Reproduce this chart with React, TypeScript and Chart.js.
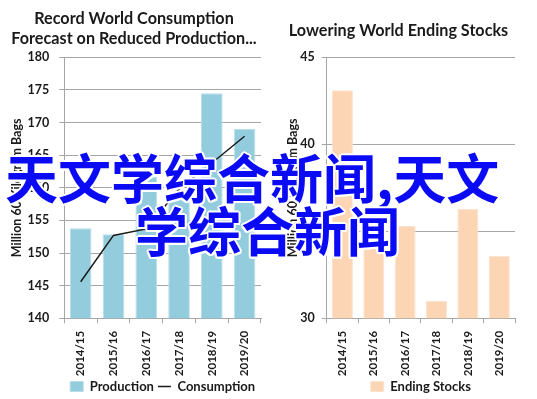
import React, { useEffect, useRef } from "react";
import { Chart, registerables } from "chart.js";

Chart.register(...registerables);

// ---- data ----
const categories = ["2014/15", "2015/16", "2016/17", "2017/18", "2018/19", "2019/20"];
const production = [153.8, 152.9, 161.7, 159.0, 174.5, 169.0];
const consumption = [145.6, 152.7, 153.7, 159.8, 163.8, 167.9];
const endingStocks = [43.1, 34.4, 35.3, 31.0, 36.3, 33.6];

const leftTitle = ["Record World Consumption", "Forecast on Reduced Production..."];
const rightTitle = "Lowering World Ending Stocks";
const axisTitle = "Million 60 Kilogram Bags";
const leftAxis = { min: 140, max: 180, step: 5 };
const rightAxis = { min: 30, max: 45, step: 5 };
const watermarkLines = ["天文学综合新闻,天文", "学综合新闻"];

// ---- style ----
const FONT = "Lato, 'Liberation Sans', Arial, sans-serif";
const TEXT = "#1a1a1a";
const GRID = "#a6a6a6";
const BLUE = "#93CDDD";
const BLUE_EDGE = "#B7DEE8";
const PEACH = "#FCD5B5";
const PEACH_EDGE = "#FDE3CE";

const LEGEND_FONT = 13;
const LEGEND_PAD = 4;
const CHART_BOTTOM = 314.3;
const LEGEND_CENTER = 382.5;
// legend height = pad + font + pad + 10 ; text centre = top + pad + font/2
const LEGEND_TOP = LEGEND_CENTER - LEGEND_PAD - LEGEND_FONT / 2;
const LEGEND_H = LEGEND_PAD * 2 + LEGEND_FONT + 10;
const X_AXIS_H = LEGEND_TOP - CHART_BOTTOM;
const BOTTOM_PAD = 399 - (LEGEND_TOP + LEGEND_H);

// let the rotated category labels run past the axis box without being clipped
const unclipLabels = {
  id: "unclipLabels",
  afterLayout(chart: any) {
    const s = chart.scales.x;
    if (s) s.bottom = chart.height;
  },
};

function legendLabels(styles: string[]) {
  return {
    color: TEXT,
    font: { family: FONT, size: LEGEND_FONT, weight: "bold" as const },
    usePointStyle: true,
    pointStyleWidth: 13,
    boxHeight: 10,
    padding: LEGEND_PAD,
    sort: (a: any, b: any) => a.datasetIndex - b.datasetIndex,
    generateLabels: (chart: any) =>
      (Chart.defaults.plugins.legend.labels as any)
        .generateLabels(chart)
        .map((l: any) => ({ ...l, pointStyle: styles[l.datasetIndex] })),
  };
}

function buildOptions(cfg: {
  title: string | string[];
  titlePad: { top: number; bottom: number };
  padRight: number;
  yWidth: number;
  yTitlePad: number;
  tickPad: number;
  axis: { min: number; max: number; step: number };
  legendStyles: string[];
}) {
  return {
    animation: false as const,
    responsive: false,
    layout: { padding: { left: 0, right: cfg.padRight, top: 0, bottom: BOTTOM_PAD } },
    plugins: {
      title: {
        display: true,
        text: cfg.title,
        color: TEXT,
        font: { family: FONT, size: 16.2, weight: "bold" as const, lineHeight: 20 / 16.2 },
        padding: cfg.titlePad,
      },
      legend: {
        display: true,
        position: "bottom" as const,
        fullSize: false,
        labels: legendLabels(cfg.legendStyles),
      },
      tooltip: { enabled: false },
    },
    scales: {
      x: {
        offset: true,
        grid: {
          offset: true,
          drawOnChartArea: false,
          drawTicks: true,
          tickLength: 5,
          color: GRID,
        },
        border: { color: GRID },
        ticks: {
          color: TEXT,
          font: { family: FONT, size: 11.5, weight: "bold" as const },
          maxRotation: 90,
          minRotation: 90,
          padding: 7.5,
          autoSkip: false,
        },
        afterFit: (s: any) => {
          s.height = X_AXIS_H;
        },
      },
      y: {
        min: cfg.axis.min,
        max: cfg.axis.max,
        ticks: {
          stepSize: cfg.axis.step,
          color: TEXT,
          font: { family: FONT, size: 12.5, weight: "bold" as const },
          padding: cfg.tickPad,
        },
        grid: { color: GRID, tickLength: 5 },
        border: { color: GRID },
        title: {
          display: true,
          text: axisTitle,
          color: TEXT,
          font: { family: FONT, size: 12.5, weight: "bold" as const, lineHeight: 1.2 },
          padding: { top: cfg.yTitlePad, bottom: 0 },
        },
        afterFit: (s: any) => {
          s.width = cfg.yWidth;
        },
      },
    },
  };
}

// canvas placement (page px)
const LEFT_X = 7;
const LEFT_W = 261;
const RIGHT_X = 282;
const RIGHT_W = 255;

function LeftChart() {
  const ref = useRef<HTMLCanvasElement>(null);
  useEffect(() => {
    const chart = new Chart(ref.current as HTMLCanvasElement, {
      type: "bar",
      data: {
        labels: categories,
        datasets: [
          {
            type: "bar",
            label: "Production",
            data: production,
            backgroundColor: BLUE,
            borderColor: BLUE_EDGE,
            borderWidth: 1,
            categoryPercentage: 0.66,
            barPercentage: 1,
            order: 2,
          } as any,
          {
            type: "line",
            label: "Consumption",
            data: consumption,
            borderColor: TEXT,
            backgroundColor: TEXT,
            borderWidth: 1.5,
            pointRadius: 0,
            fill: false,
            tension: 0,
            order: 1,
          } as any,
        ],
      },
      options: buildOptions({
        title: leftTitle,
        titlePad: { top: 9, bottom: 8.3 },
        padRight: 7,
        yWidth: 64.3 - LEFT_X,
        yTitlePad: 17 - LEFT_X - 7.5,
        tickPad: 10,
        axis: leftAxis,
        legendStyles: ["rect", "line"],
      }) as any,
      plugins: [unclipLabels],
    });
    return () => chart.destroy();
  }, []);
  return (
    <canvas
      ref={ref}
      width={LEFT_W}
      height={399}
      style={{ position: "absolute", left: LEFT_X, top: 0, width: LEFT_W, height: 399 }}
    />
  );
}

function RightChart() {
  const ref = useRef<HTMLCanvasElement>(null);
  useEffect(() => {
    const chart = new Chart(ref.current as HTMLCanvasElement, {
      type: "bar",
      data: {
        labels: categories,
        datasets: [
          {
            label: "Ending Stocks",
            data: endingStocks,
            backgroundColor: PEACH,
            borderColor: PEACH_EDGE,
            borderWidth: 1,
            categoryPercentage: 0.67,
            barPercentage: 1,
          } as any,
        ],
      },
      options: buildOptions({
        title: rightTitle,
        titlePad: { top: 21, bottom: 16.3 },
        padRight: 22,
        yWidth: 326.7 - RIGHT_X,
        yTitlePad: 293 - RIGHT_X - 7.5,
        tickPad: 7,
        axis: rightAxis,
        legendStyles: ["rect"],
      }) as any,
      plugins: [unclipLabels],
    });
    return () => chart.destroy();
  }, []);
  return (
    <canvas
      ref={ref}
      width={RIGHT_W}
      height={399}
      style={{ position: "absolute", left: RIGHT_X, top: 0, width: RIGHT_W, height: 399 }}
    />
  );
}

const outline =
  "2px 0 0 #fff, -2px 0 0 #fff, 0 2px 0 #fff, 0 -2px 0 #fff, 1.5px 1.5px 0 #fff, -1.5px 1.5px 0 #fff, 1.5px -1.5px 0 #fff, -1.5px -1.5px 0 #fff";

function Watermark() {
  const base: React.CSSProperties = {
    position: "absolute",
    whiteSpace: "nowrap",
    fontFamily: "'Noto Sans CJK SC', sans-serif",
    fontWeight: 700,
    fontSize: 53,
    lineHeight: "53px",
    color: "#0a0af5",
    textShadow: outline,
  };
  return (
    <div style={{ position: "absolute", left: 0, top: 0, width: 537, height: 399, pointerEvents: "none" }}>
      <div style={{ ...base, left: 5, top: 149.5 }}>{watermarkLines[0]}</div>
      <div style={{ ...base, left: 135, top: 202.5 }}>{watermarkLines[1]}</div>
    </div>
  );
}

export default function App() {
  return (
    <div
      style={{
        position: "absolute",
        left: 0,
        top: 0,
        width: 537,
        height: 399,
        background: "#fff",
        overflow: "hidden",
      }}
    >
      <LeftChart />
      <RightChart />
      <Watermark />
    </div>
  );
}
